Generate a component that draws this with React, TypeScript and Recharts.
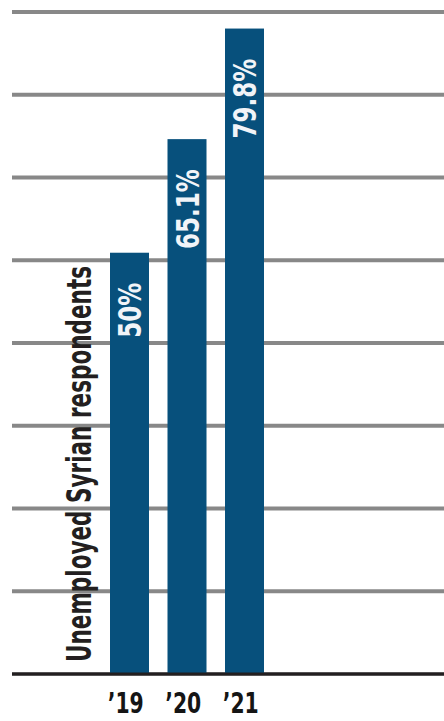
import React from 'react';
import { BarChart, Bar, XAxis, YAxis, CartesianGrid, LabelList } from 'recharts';

const years = ['2019', '2020', '2021'];
const yearLabels = ['’19', '’20', '’21'];
const unemployedShare = [50, 65.1, 79.8];
const gridTicks = [5, 16, 27, 38, 49, 60, 71, 82];
const axisTitle = 'Unemployed Syrian respondents';

const data = years.map((year, i) => ({ year, value: unemployedShare[i] }));

const FONT = "'DejaVu Sans Condensed', 'DejaVu Sans', sans-serif";
const BLUE = '#07507c';
const PLOT_BOTTOM = 674;

// bars run down to the baseline, not to zero
const FullBar = (props: any) => {
  const { x, y, width, background } = props;
  const bottom = background ? background.y + background.height : PLOT_BOTTOM;
  return <rect x={x} y={y} width={width} height={bottom - y} fill={BLUE} />;
};

const BarValue = (props: any) => {
  const { x, y, width, value } = props;
  return (
    <text
      transform={`translate(${x + width / 2},${y + 30}) rotate(-90) scale(0.8,1)`}
      textAnchor="end"
      dy="0.36em"
      fill="#f1f4f8"
      fontFamily={FONT}
      fontWeight="bold"
      fontSize={32}
    >
      {`${value}%`}
    </text>
  );
};

const YearTick = (props: any) => {
  const { x, y, payload } = props;
  const i = years.indexOf(payload.value);
  return (
    <text
      transform={`translate(${x - 4},${y + 39}) scale(0.78,1)`}
      textAnchor="middle"
      fill="#151515"
      fontFamily={FONT}
      fontWeight="bold"
      fontSize={29}
    >
      {yearLabels[i]}
    </text>
  );
};

export default function App() {
  return (
    <div style={{ position: 'absolute', left: 0, top: 0, background: '#fff' }}>
      <BarChart width={444} height={721} data={data} margin={{ top: 12, right: 0, bottom: 0, left: 12 }}>
        <CartesianGrid vertical={false} stroke="#888888" strokeWidth={4} />
        <YAxis hide type="number" domain={[-6, 82]} ticks={gridTicks} allowDataOverflow />
        <XAxis
          dataKey="year"
          height={47}
          padding={{ left: 89, right: 170.5 }}
          axisLine={{ stroke: '#231f20', strokeWidth: 3 }}
          tickLine={false}
          tickSize={0}
          tickMargin={0}
          interval={0}
          tick={<YearTick />}
        />
        <Bar dataKey="value" fill={BLUE} barSize={39} shape={<FullBar />} isAnimationActive={false}>
          <LabelList dataKey="value" content={<BarValue />} />
        </Bar>
        <text
          transform="translate(91,662) rotate(-90)"
          textAnchor="start"
          textLength={396}
          lengthAdjust="spacingAndGlyphs"
          fill="#231f20"
          fontFamily={FONT}
          fontWeight="bold"
          fontSize={34}
        >
          {axisTitle}
        </text>
      </BarChart>
    </div>
  );
}
